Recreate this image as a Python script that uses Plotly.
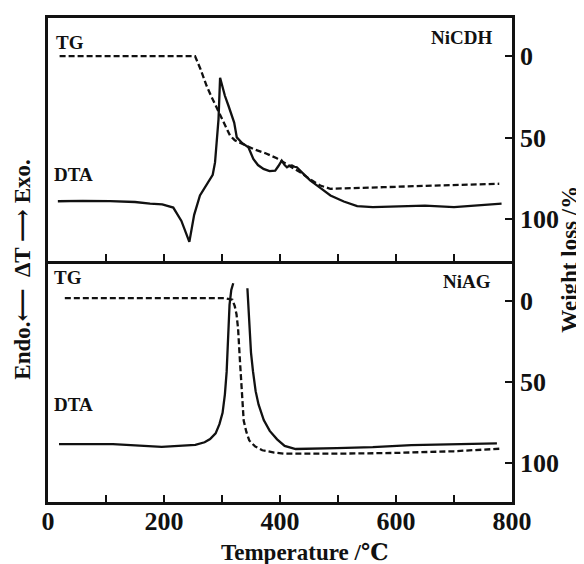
import plotly.graph_objects as go

# ---------------- data ----------------
# Upper panel: NiCDH
nicdh_dta_T = [17, 60, 107, 150, 176, 197, 216, 230, 243.7, 252, 262, 270, 277, 284, 288, 291, 294,
               296.7, 300, 305, 311, 316.8, 321, 325.5, 335, 345.5, 354, 362, 371.5, 382, 391.7, 397,
               403, 408, 412, 416, 420.5, 425, 429, 440, 452, 470, 487, 510, 533, 560, 608, 650, 700,
               740, 782]
nicdh_dta_v = [24.6, 24.8, 24.7, 24.3, 23.6, 23.3, 22.0, 16.5, 7.9, 19.0, 27.0, 30.0, 32.5, 35.5, 40.6,
               48.8, 58.4, 75.4, 72.0, 68.0, 64.0, 60.4, 57.0, 50.9, 48.5, 46.8, 42.0, 39.5, 37.9, 37.0,
               37.2, 39.0, 41.3, 39.5, 38.6, 39.2, 39.3, 38.8, 38.6, 36.0, 33.2, 30.0, 27.0, 24.5, 22.6,
               22.2, 22.6, 22.8, 22.2, 22.8, 23.6]
nicdh_tg_T = [20, 100, 200, 253.5, 263, 273.6, 282, 291, 302, 314, 322, 331, 342, 354, 375, 394.6, 415,
              435, 452, 469.5, 486.7, 530, 578.8, 650, 720, 778]
nicdh_tg_w = [0, 0, 0, 0, 8, 18.3, 25, 31.5, 40, 48.8, 51.5, 52.9, 55, 56.9, 59.5, 62.6, 67, 71.2, 75.5,
              79.3, 81.3, 81, 80.3, 79.5, 78.8, 78.2]

# Lower panel: NiAG (DTA broken where the exotherm runs off scale)
niag_dta_T = [19, 112, 196, 254, 270, 279.5, 289, 295.6, 301, 305, 308, 310.4, 313, 316, 319.4,
              None,
              343.8, 347, 350, 353.4, 358, 363, 372, 382.3, 395, 408, 427, 498, 560, 626.5, 700, 774]
niag_dta_v = [24, 24, 22.9, 23.7, 24.8, 26.1, 28.5, 32.3, 37, 44.7, 54, 65.3, 81.8, 88, 90.8,
              None,
              88.7, 72.2, 62, 54.3, 46, 40.5, 34, 29.5, 26, 23.3, 22, 22.4, 22.8, 23.6, 23.9, 24.3]
niag_tg_T = [29, 100, 200, 305, 318, 322, 325, 327.7, 331, 334, 337.4, 342, 347, 357, 369.5, 390, 408,
             498, 594, 700, 780.8]
niag_tg_w = [-2, -2, -2, -2, -1, 3, 8, 16.8, 37.2, 57.7, 74, 81, 86.3, 90, 92.4, 93.8, 94.5, 94.5,
             94.1, 93, 91.4]

x_tick_vals = [0, 100, 200, 300, 400, 500, 600, 700, 800]
x_tick_text = ["0", "", "200", "", "400", "", "600", "", "800"]
w_tick_vals = [0, 50, 100]
w_tick_text = ["0", "50", "100"]

# ---------------- figure ----------------
FONT = "Liberation Serif, DejaVu Serif, serif"
INK = "#111111"
split = 0.4978

fig = go.Figure()

line_solid = dict(color=INK, width=2.3)
line_dash = dict(color=INK, width=2.3, dash="6px,3px")

fig.add_trace(go.Scatter(x=nicdh_dta_T, y=nicdh_dta_v, xaxis="x2", yaxis="y3", mode="lines",
                         line=line_solid, connectgaps=False, showlegend=False))
fig.add_trace(go.Scatter(x=nicdh_tg_T, y=nicdh_tg_w, xaxis="x2", yaxis="y4", mode="lines",
                         line=line_dash, showlegend=False))
fig.add_trace(go.Scatter(x=niag_dta_T, y=niag_dta_v, xaxis="x", yaxis="y", mode="lines",
                         line=line_solid, connectgaps=False, showlegend=False))
fig.add_trace(go.Scatter(x=niag_tg_T, y=niag_tg_w, xaxis="x", yaxis="y2", mode="lines",
                         line=line_dash, showlegend=False))

tickfont = dict(family=FONT, size=26, color=INK, weight="bold")

common_x = dict(range=[0, 800], tickvals=x_tick_vals, ticktext=x_tick_text, ticks="inside",
                ticklen=7, tickwidth=2, tickcolor=INK, showline=True, linewidth=2.5, linecolor=INK,
                showgrid=False, zeroline=False, tickfont=tickfont, ticklabelstandoff=-6)

right_y = dict(tickvals=w_tick_vals, ticktext=w_tick_text, ticks="inside", ticklen=7, tickwidth=2,
               tickcolor=INK, showline=True, linewidth=2.5, linecolor=INK, showgrid=False,
               zeroline=False, side="right", tickfont=tickfont)

left_y = dict(range=[0, 100], showline=True, linewidth=2.5, linecolor=INK, showticklabels=False,
              ticks="", showgrid=False, zeroline=False)

# page has an 8px body margin, so the figure is drawn 8px smaller and offset
fig.update_layout(
    width=576, height=556,
    margin=dict(l=40, r=72, t=7, b=62),
    paper_bgcolor="white", plot_bgcolor="white",
    xaxis=dict(**common_x, anchor="y", domain=[0, 1]),
    xaxis2=dict(**common_x, anchor="y3", domain=[0, 1], matches="x", showticklabels=False,
                mirror=True),
    yaxis=dict(**left_y, domain=[0, split], anchor="x"),
    yaxis2=dict(**right_y, range=[124.5, -25], overlaying="y", anchor="x"),
    yaxis3=dict(**left_y, domain=[split, 1], anchor="x2"),
    yaxis4=dict(**right_y, range=[125.6, -23.4], overlaying="y3", anchor="x2"),
)

def px_x(p):
    return (p - 48) / 464.0

def px_y(p):
    return (501.5 - p) / 486.5

lab = dict(family=FONT, size=19, color=INK, weight="bold")
ann = [
    dict(text="TG", x=px_x(54), y=px_y(40), xanchor="left", yanchor="middle", font=lab),
    dict(text="NiCDH", x=px_x(494), y=px_y(35), xanchor="right", yanchor="middle", font=lab),
    dict(text="DTA", x=px_x(52), y=px_y(172), xanchor="left", yanchor="middle", font=lab),
    dict(text="TG", x=px_x(52), y=px_y(276), xanchor="left", yanchor="middle", font=lab),
    dict(text="NiAG", x=px_x(493), y=px_y(280), xanchor="right", yanchor="middle", font=lab),
    dict(text="DTA", x=px_x(52), y=px_y(403), xanchor="left", yanchor="middle", font=lab),
    dict(text="Temperature /℃", x=px_x(304), y=px_y(552), xanchor="center", yanchor="middle",
         font=dict(family=FONT, size=23, color=INK, weight="bold")),
    dict(text="Endo.⟵  ΔT ⟶ Exo.", x=px_x(23), y=px_y(268), xanchor="center", yanchor="middle",
         textangle=-90, font=dict(family=FONT, size=23, color=INK, weight="bold")),
    dict(text="Weight loss /%", x=px_x(570), y=px_y(258), xanchor="center", yanchor="middle",
         textangle=-90, font=dict(family=FONT, size=23, color=INK, weight="bold")),
]
for a in ann:
    a.update(xref="paper", yref="paper", showarrow=False)
fig.update_layout(annotations=ann)

fig.write_html("out.html")
